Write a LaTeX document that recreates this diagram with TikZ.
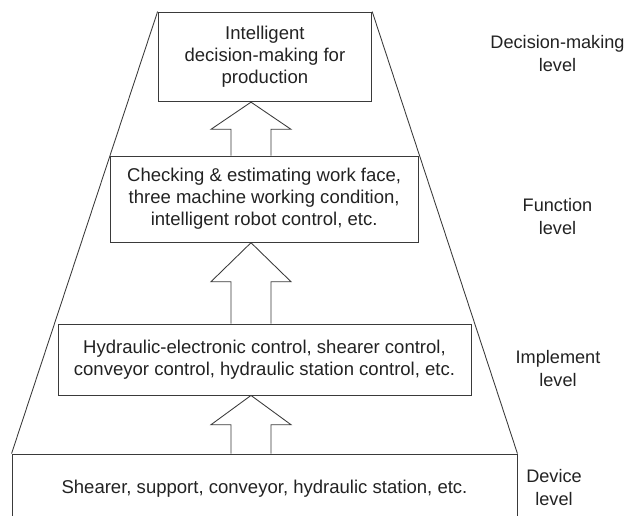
\documentclass[tikz,border=0pt]{standalone}
\usepackage{fontspec}
\setmainfont{Liberation Sans}
\definecolor{linec}{HTML}{3A3A3A}
\definecolor{textc}{HTML}{222222}
\begin{document}
\begin{tikzpicture}[x=0.75pt,y=-0.75pt,
  box/.style={draw=linec, line width=0.65pt, inner sep=0pt, align=center, text=textc, font=\fontsize{13.9}{16.5}\selectfont},
  lbl/.style={align=center, text=textc, font=\fontsize{13.6}{17.25}\selectfont},
  fat/.style={draw=linec, line width=0.65pt, line join=miter},
  side/.style={draw=linec, line width=0.65pt}]
\useasboundingbox (0,0) rectangle (629,515);
% boxes
\node[box, minimum width=160.3pt, minimum height=67.3pt] (tb) at (264.9,56.85) {Intelligent\\decision-making for\\production};
\node[box, minimum width=231.2pt, minimum height=64.7pt] (fn) at (264.15,199.15) {Checking \& estimating work face,\\three machine working condition,\\intelligent robot control, etc.};
\node[box, minimum width=309.75pt, minimum height=53.25pt] (im) at (264.5,359.5) {Hydraulic-electronic control, shearer control,\\conveyor control, hydraulic station control, etc.};
\node[box, minimum width=378.75pt, minimum height=51.45pt] (dev) at (264.5,488.3) {Shearer, support, conveyor, hydraulic station, etc.};
% trapezoid sides
\draw[side] (tb.north west) -- (dev.north west);
\draw[side] (tb.north east) -- (dev.north east);
% fat arrows
\draw[fat] (231,0 |- fn.north) -- (231,129.3) -- (211,129.3) -- (251,0 |- tb.south) -- (291,129.3) -- (271,129.3) -- (271,0 |- fn.north);
\draw[fat] (231,0 |- im.north) -- (231,281.7) -- (211,281.7) -- (251,0 |- fn.south) -- (291,281.7) -- (271,281.7) -- (271,0 |- im.north);
\draw[fat] (231,0 |- dev.north) -- (231,424.7) -- (211,424.7) -- (251,0 |- im.south) -- (291,424.7) -- (271,424.7) -- (271,0 |- dev.north);
% level labels
\node[lbl] (l1) at (557.5,53.5) {Decision-making\\level};
\node[lbl] (l2) at (557.5,217) {Function\\level};
\node[lbl] (l3) at (558,368.5) {Implement\\level};
\node[lbl] (l4) at (554,488) {Device\\level};
\end{tikzpicture}
\end{document}
